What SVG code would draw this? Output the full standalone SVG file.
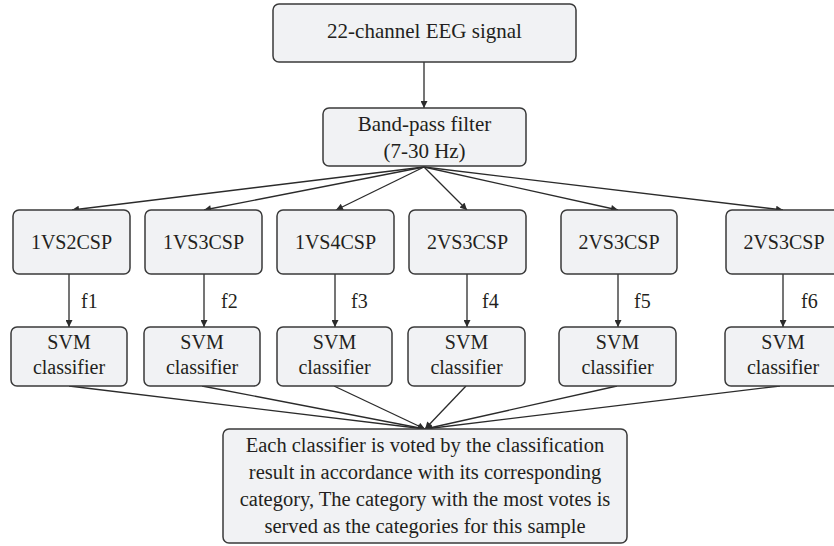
<svg xmlns="http://www.w3.org/2000/svg" width="834" height="546" viewBox="0 0 834 546">
  <style>
    .box { fill: #f1f2f4; stroke: #3a3a3a; stroke-width: 1.5; }
    .edge { stroke: #2b2b2b; stroke-width: 1.3; fill: none; marker-end: url(#arrow); }
  </style>
  <defs>
    <marker id="arrow" viewBox="0 0 10 10" refX="10" refY="5" markerWidth="8" markerHeight="7" markerUnits="userSpaceOnUse" orient="auto">
      <path d="M0,0 L10,5 L0,10 z" fill="#2b2b2b"/>
    </marker>
  </defs>
  <rect width="834" height="546" fill="#ffffff"/>

  <!-- connectors -->
  <g id="connectors">
    <line class="edge" x1="424" y1="62" x2="424" y2="108"/>
    <line class="edge" x1="424" y1="167" x2="72" y2="210"/>
    <line class="edge" x1="424" y1="167" x2="204" y2="210"/>
    <line class="edge" x1="424" y1="167" x2="336" y2="210"/>
    <line class="edge" x1="424" y1="167" x2="467" y2="210"/>
    <line class="edge" x1="424" y1="167" x2="618" y2="210"/>
    <line class="edge" x1="424" y1="167" x2="783" y2="210"/>

    <line class="edge" x1="69" y1="274" x2="69" y2="327"/>
    <line class="edge" x1="204" y1="274" x2="204" y2="327"/>
    <line class="edge" x1="335" y1="274" x2="335" y2="327"/>
    <line class="edge" x1="467" y1="274" x2="467" y2="327"/>
    <line class="edge" x1="618" y1="274" x2="618" y2="327"/>
    <line class="edge" x1="783" y1="274" x2="783" y2="327"/>

    <line class="edge" x1="69" y1="386" x2="425" y2="429"/>
    <line class="edge" x1="202" y1="386" x2="425" y2="429"/>
    <line class="edge" x1="334" y1="386" x2="425" y2="429"/>
    <line class="edge" x1="466" y1="386" x2="425" y2="429"/>
    <line class="edge" x1="617" y1="386" x2="425" y2="429"/>
    <line class="edge" x1="780" y1="386" x2="425" y2="429"/>
  </g>

  <g font-family="Liberation Serif" font-size="20" fill="#231f20" text-anchor="middle">
    <!-- feature labels -->
    <g id="feature-labels" text-anchor="start">
      <text x="81" y="308">f1</text>
      <text x="221" y="308">f2</text>
      <text x="351" y="308">f3</text>
      <text x="482" y="308">f4</text>
      <text x="634" y="308">f5</text>
      <text x="801" y="308">f6</text>
    </g>

    <g id="eeg">
      <rect class="box" x="273" y="4" width="303" height="58" rx="6"/>
      <text x="424.5" y="38" font-size="21">22-channel EEG signal</text>
    </g>

    <g id="bandpass">
      <rect class="box" x="323" y="108" width="203" height="58" rx="6"/>
      <text x="424.5" y="131" font-size="21">Band-pass filter</text>
      <text x="424.5" y="158" font-size="21">(7-30 Hz)</text>
    </g>

    <g id="csp1">
      <rect class="box" x="13" y="210" width="117" height="64" rx="6"/>
      <text x="71.5" y="249">1VS2CSP</text>
    </g>
    <g id="csp2">
      <rect class="box" x="145" y="210" width="117" height="64" rx="6"/>
      <text x="203.5" y="249">1VS3CSP</text>
    </g>
    <g id="csp3">
      <rect class="box" x="277" y="210" width="117" height="64" rx="6"/>
      <text x="335.5" y="249">1VS4CSP</text>
    </g>
    <g id="csp4">
      <rect class="box" x="409" y="210" width="117" height="64" rx="6"/>
      <text x="467.5" y="249">2VS3CSP</text>
    </g>
    <g id="csp5">
      <rect class="box" x="561" y="210" width="116" height="64" rx="6"/>
      <text x="619" y="249">2VS3CSP</text>
    </g>
    <g id="csp6">
      <rect class="box" x="726" y="210" width="116" height="64" rx="6"/>
      <text x="784" y="249">2VS3CSP</text>
    </g>

    <g id="svm1">
      <rect class="box" x="11" y="327" width="116" height="59" rx="6"/>
      <text x="69" y="349">SVM</text>
      <text x="69" y="374">classifier</text>
    </g>
    <g id="svm2">
      <rect class="box" x="144" y="327" width="116" height="59" rx="6"/>
      <text x="202" y="349">SVM</text>
      <text x="202" y="374">classifier</text>
    </g>
    <g id="svm3">
      <rect class="box" x="277" y="327" width="115" height="59" rx="6"/>
      <text x="334.5" y="349">SVM</text>
      <text x="334.5" y="374">classifier</text>
    </g>
    <g id="svm4">
      <rect class="box" x="408" y="327" width="117" height="59" rx="6"/>
      <text x="466.5" y="349">SVM</text>
      <text x="466.5" y="374">classifier</text>
    </g>
    <g id="svm5">
      <rect class="box" x="559" y="327" width="117" height="59" rx="6"/>
      <text x="617.5" y="349">SVM</text>
      <text x="617.5" y="374">classifier</text>
    </g>
    <g id="svm6">
      <rect class="box" x="725" y="327" width="116" height="59" rx="6"/>
      <text x="783" y="349">SVM</text>
      <text x="783" y="374">classifier</text>
    </g>

    <g id="vote" font-size="20.5">
      <rect class="box" x="223" y="429" width="404" height="114" rx="6"/>
      <text x="425" y="452">Each classifier is voted by the classification</text>
      <text x="425" y="479">result in accordance with its corresponding</text>
      <text x="425" y="506">category, The category with the most votes is</text>
      <text x="425" y="533">served as the categories for this sample</text>
    </g>
  </g>
</svg>
